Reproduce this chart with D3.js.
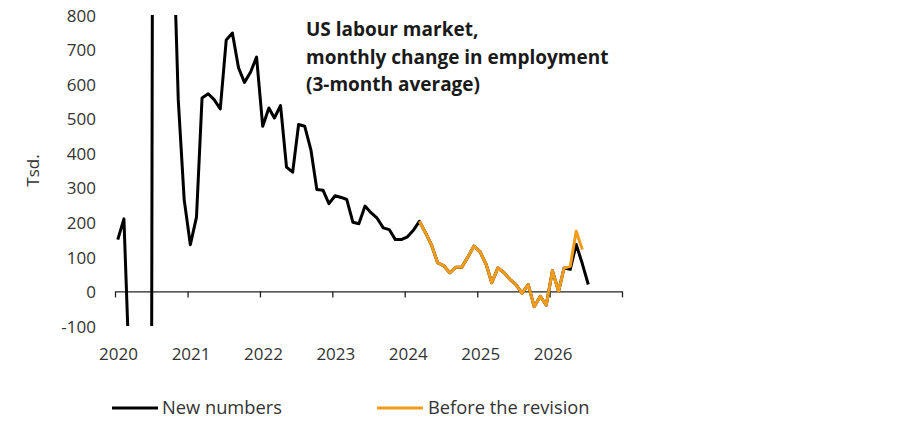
<!DOCTYPE html>
<html>
<head>
<meta charset="utf-8">
<script src="https://cdn.jsdelivr.net/npm/d3@7"></script>
<style>
  html, body { margin: 0; padding: 0; background: #fff; }
  svg { display: block; }
  text { font-family: "Open Sans", Lato, sans-serif; }
</style>
</head>
<body>
<svg id="chart" width="923" height="430"></svg>
<script>
// ---- data (monthly, starting January 2020) ----
const startYear = 2020;
const newNumbers = [
  150, 210, -260, -7200, -6400, -5500, 3000, 2600, 1300, 1150, 555, 265,   // 2020
  135, 215, 560, 572, 555, 528, 728, 748, 647, 605, 635, 678,              // 2021
  478, 531, 502, 538, 360, 345, 483, 478, 410, 295, 293, 254,              // 2022
  277, 272, 266, 200, 196, 247, 228, 212, 184, 179, 150, 150,              // 2023
  158, 178, 203, 170, 135, 83, 75, 54, 70, 70, 100, 131,                   // 2024
  115, 78, 25, 68, 55, 35, 20, -5, 20, -44, -14, -40,                      // 2025
  60, 0, 68, 64, 136, 80, 20                                               // 2026
];
const revisionStartIndex = 50; // March 2024
const beforeRevision = [
  203, 170, 135, 83, 75, 54, 70, 70, 100, 131,
  115, 78, 25, 68, 55, 35, 20, -5, 20, -44, -14, -40,
  60, 0, 68, 73, 174, 121
];
const yTicks = [800, 700, 600, 500, 400, 300, 200, 100, 0, -100];
const yearTicks = [2020, 2021, 2022, 2023, 2024, 2025, 2026, 2027];
const yearLabels = ["2020", "2021", "2022", "2023", "2024", "2025", "2026", ""];
const titleLines = ["US labour market,", "monthly change in employment", "(3-month average)"];
const seriesNames = ["New numbers", "Before the revision"];
const seriesColors = ["#000000", "#F29C1B"];

// ---- scales ----
const svg = d3.select("#chart");
const x = d3.scaleTime()
  .domain([new Date(2020, 0, 1), new Date(2027, 0, 1)])
  .range([115, 622]);
const y = d3.scaleLinear().domain([-100, 800]).range([326, 15]);

const monthDate = i => new Date(startYear, i, 15);

const blackPts = newNumbers.map((v, i) => ({ d: monthDate(i), v }));
const orangePts = beforeRevision.map((v, i) => ({ d: monthDate(revisionStartIndex + i), v }));

svg.append("defs").append("clipPath").attr("id", "plotClip")
  .append("rect").attr("x", 100).attr("y", y(800)).attr("width", 540).attr("height", y(-100) - y(800));

// ---- x axis at zero ----
const xAxis = d3.axisBottom(x)
  .tickValues(yearTicks.map(yr => new Date(yr, 0, 1)))
  .tickFormat((d, i) => yearLabels[i])
  .tickSizeInner(6).tickSizeOuter(0);
const gx = svg.append("g").attr("transform", `translate(0,${y(0)})`).call(xAxis);
gx.select(".domain").attr("stroke", "#222").attr("stroke-width", 1.3);
gx.selectAll(".tick line").attr("stroke", "#222").attr("stroke-width", 1.3);
gx.selectAll(".tick text")
  .attr("font-size", 17).attr("fill", "#333")
  .attr("dx", 3)
  .attr("y", 0).attr("dy", 0)
  .attr("transform", `translate(0,${360 - y(0)})`);

// ---- y tick labels (no axis line) ----
const yAxis = d3.axisLeft(y).tickValues(yTicks).tickFormat(d => String(d)).tickSize(0).tickPadding(0);
const gy = svg.append("g").attr("transform", "translate(96,0)").call(yAxis);
gy.select(".domain").remove();
gy.selectAll(".tick text").attr("font-size", 17).attr("fill", "#333").attr("dy", "0.36em");

svg.append("text")
  .attr("transform", `translate(39,${(y(800) + y(-100)) / 2}) rotate(-90)`)
  .attr("text-anchor", "middle").attr("font-size", 17).attr("fill", "#333")
  .text("Tsd.");

// ---- lines ----
const line = d3.line().x(p => x(p.d)).y(p => y(p.v));
const plot = svg.append("g").attr("clip-path", "url(#plotClip)");
plot.append("path").datum(blackPts)
  .attr("d", line).attr("fill", "none")
  .attr("stroke", seriesColors[0]).attr("stroke-width", 3).attr("stroke-linejoin", "round");
plot.append("path").datum(orangePts)
  .attr("d", line).attr("fill", "none")
  .attr("stroke", seriesColors[1]).attr("stroke-width", 3).attr("stroke-linejoin", "round");

// ---- title ----
const title = svg.append("text").attr("x", 306).attr("y", 36)
  .attr("font-size", 19).attr("font-weight", "bold").attr("fill", "#1a1a1a");
titleLines.forEach((t, i) => {
  title.append("tspan").attr("x", 306).attr("dy", i === 0 ? 0 : 27.5).text(t);
});

// ---- legend ----
const legendItems = [
  { x1: 112, x2: 158, tx: 162 },
  { x1: 377, x2: 423, tx: 428 }
];
legendItems.forEach((it, i) => {
  svg.append("line").attr("x1", it.x1).attr("x2", it.x2).attr("y1", 408).attr("y2", 408)
    .attr("stroke", seriesColors[i]).attr("stroke-width", 3);
  svg.append("text").attr("x", it.tx).attr("y", 414)
    .attr("font-size", 18.3).attr("fill", "#333").text(seriesNames[i]);
});
</script>
</body>
</html>
